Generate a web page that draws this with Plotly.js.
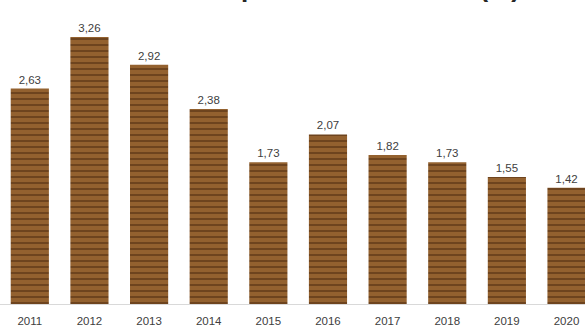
<!DOCTYPE html>
<html>
<head>
<meta charset="utf-8">
<script src="https://cdn.plot.ly/plotly-3.0.1.min.js"></script>
<style>
html,body{margin:0;padding:0;background:#fff;}
#chart{width:585px;height:325px;}
</style>
</head>
<body>
<div id="chart"></div>
<script>
const years = ["2011","2012","2013","2014","2015","2016","2017","2018","2019","2020"];
const values = [2.63, 3.26, 2.92, 2.38, 1.73, 2.07, 1.82, 1.73, 1.55, 1.42];
const titleText = "Tasa de pérdida de madera (%)";

const trace = {
  type: "bar",
  x: years,
  y: values,
  texttemplate: "%{y:.2f}",
  textposition: "outside",
  cliponaxis: false,
  textfont: {family: "Liberation Sans, Arial, sans-serif", size: 11.5, color: "#404040"},
  marker: {
    color: "#93612f",
    line: {width: 0},
    pattern: {shape: "-", fillmode: "overlay", fgcolor: "#5e3817", fgopacity: 0.8, size: 6, solidity: 0.3}
  },
  hoverinfo: "skip"
};

const layout = {
  width: 585,
  height: 325,
  margin: {l: 0, r: 0, t: 0, b: 21},
  paper_bgcolor: "#ffffff",
  plot_bgcolor: "#ffffff",
  separators: ",.",
  bargap: 0.36,
  showlegend: false,
  xaxis: {
    type: "category",
    range: [-0.5, 9.31],
    showline: true,
    linecolor: "#d9d9d9",
    linewidth: 1,
    showgrid: false,
    ticks: "",
    ticklabelstandoff: 6,
    tickfont: {family: "Liberation Sans, Arial, sans-serif", size: 11.5, color: "#404040"},
    fixedrange: true
  },
  yaxis: {
    range: [0, 3.712],
    visible: false,
    showgrid: false,
    zeroline: false,
    fixedrange: true
  },
  annotations: [{
    text: "<b>" + titleText + "</b>",
    xref: "paper", yref: "paper",
    x: 0.235, y: 1, xanchor: "left", yanchor: "bottom",
    yshift: -5,
    showarrow: false,
    font: {family: "Liberation Sans, Arial, sans-serif", size: 26, color: "#262626"}
  }]
};

Plotly.newPlot("chart", [trace], layout, {displayModeBar: false, staticPlot: true});
</script>
</body>
</html>
